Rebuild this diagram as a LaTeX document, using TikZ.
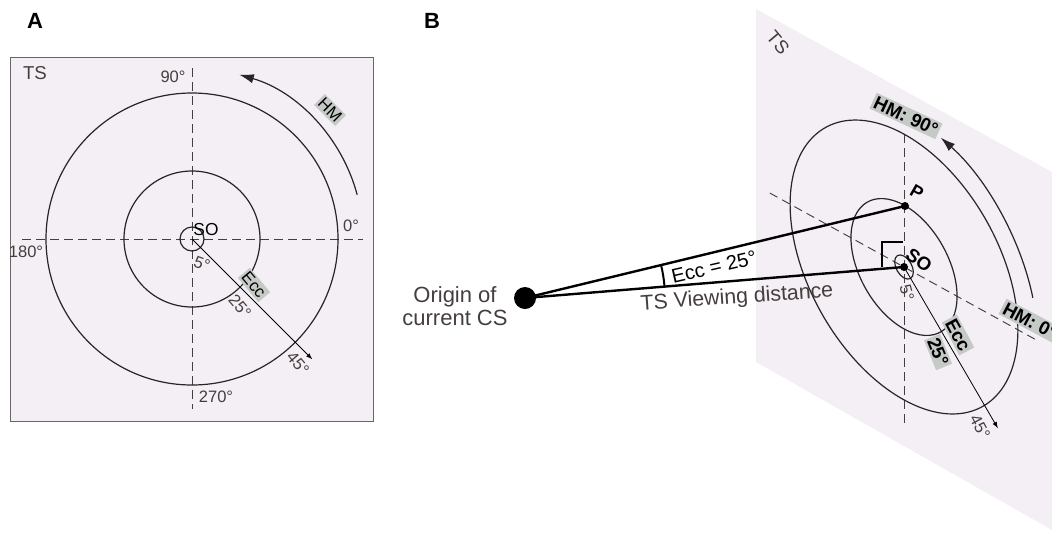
\documentclass[tikz,border=0pt]{standalone}
\usepackage{fontspec}
\setmainfont{Liberation Sans}
\usetikzlibrary{arrows.meta}
\definecolor{tsbg}{HTML}{F4EEF5}
\definecolor{tagbg}{HTML}{C6CAC6}
\definecolor{txt}{HTML}{463E3E}
\tikzset{
  deg/.style={text=txt,inner sep=0pt,font=\fontsize{12.4}{14}\selectfont},
  tag/.style={fill=tagbg,inner sep=1.5pt,font=\fontsize{12.5}{14}\selectfont},
  btag/.style={fill=tagbg,inner sep=1.5pt,font=\bfseries\fontsize{14}{16}\selectfont},
  dsh/.style={dash pattern=on 6.5pt off 4pt,draw=black!75,line width=0.7pt},
  ring/.style={line width=0.9pt,draw=black!85},
  dot/.style={circle,fill=black,inner sep=0pt,minimum size=#1},
  bigtip/.style={-{Latex[length=11pt,width=7pt]},line width=0.9pt,draw=black!85},
}
\begin{document}
\begin{tikzpicture}[x=0.75pt,y=-0.75pt,>=latex]
\useasboundingbox (0,0) rectangle (1052,533);
% panel A
\node[font=\bfseries\fontsize{16.5}{18}\selectfont] (labA) at (35,21) {A};
\draw[draw=black!60,fill=tsbg] (10,57) rectangle (373,421);
\node[text=txt,font=\fontsize{14}{16}\selectfont] (tsA) at (35,73) {TS};
\begin{scope}[shift={(192,239)},y=0.75pt]
\coordinate (soA) at (0,0);
\coordinate (eccA) at (-45:170);
\draw[dsh] (-170,0) -- (171,0);
\draw[dsh] (0,171) -- (0,-170);
\draw[ring] (soA) circle (146) (soA) circle (68) (soA) circle (12);
\draw[->,line width=0.6pt] (soA) -- (eccA);
\draw[bigtip] (15:171) arc[start angle=15,end angle=74,radius=171];
\end{scope}
\node[deg] (a90) at (173,77) {90°};
\node[deg] (a0) at (351,226) {0°};
\node[deg] (a180) at (26,252) {180°};
\node[deg] (a270) at (216,397) {270°};
\node[inner sep=0pt,font=\fontsize{13}{14}\selectfont] (soAl) at (206,230) {SO};
\node[deg,rotate=-20] (a5) at (202,264) {5°};
\node[deg,rotate=-50] (a25) at (240,306) {25°};
\node[deg,rotate=-50] (a45) at (298,363) {45°};
\node[tag,rotate=-50] (eccAl) at (254,285) {Ecc};
\node[tag,rotate=-45] (hmA) at (330,110) {HM};

% panel B
\node[font=\bfseries\fontsize{16.5}{18}\selectfont] (labB) at (432,21) {B};
\fill[tsbg] (756,9) -- (1052,172) -- (1052,530) -- (756,362) -- cycle;
\node[text=txt,rotate=-50,font=\fontsize{14}{16}\selectfont] (tsB) at (778,43) {TS};
\begin{scope}[shift={(904,267)},x={(0.585pt,-0.3225pt)},y={(0pt,0.6825pt)}]
\coordinate (soB) at (0,0);
\coordinate (eccB) at (-45:170);
\draw[dsh] (-172,0) -- (172,0);
\draw[dsh] (0,-171) -- (0,150);
\draw[ring] (soB) circle (146) (soB) circle (68) (soB) circle (12);
\draw[->,line width=0.6pt] (soB) -- (eccB);
\draw[bigtip] (15:171) arc[start angle=15,end angle=74,radius=171];
\end{scope}
\draw[line width=1.5pt] (882,267) -- (882,242) -- (903,242);

\node[dot=16.5pt] (orig) at (525,298) {};
\node[dot=6pt] (p) at (905,206) {};
\node[dot=6pt] (so) at (904,267) {};
\draw[line width=1.8pt] (orig.center) -- (p.center);
\draw[line width=1.8pt] (orig.center) -- (so.center);
\draw[line width=1.5pt] (orig.center) ++(-4.7:140) arc[start angle=-4.7,end angle=-13.6,radius=140];

\node[text=txt,align=center,font=\fontsize{16.5}{17.3}\selectfont] (origl) at (455,306) {Origin of\\current CS};
\node[rotate=13,font=\fontsize{15}{17}\selectfont] (ecc25) at (714,267) {Ecc = 25°};
\node[text=txt,rotate=4,font=\fontsize{16}{18}\selectfont] (tsvd) at (737,298) {TS Viewing distance};
\node[rotate=-30,inner sep=0pt,font=\bfseries\fontsize{13.5}{15}\selectfont] (pl) at (917,192) {P};
\node[rotate=-37,inner sep=0pt,font=\bfseries\fontsize{14}{15}\selectfont] (soBl) at (919,260) {SO};
\node[deg,rotate=-75] (b5) at (907,293) {5°};
\node[deg,rotate=-62] (b45) at (980,427) {45°};
\node[btag,rotate=-25] (hm90) at (906,116) {HM: 90°};
\node[btag,rotate=-28] (hm0) at (1030,321) {HM: 0°};
\node[btag,rotate=-62] (eccBl) at (958,335) {Ecc};
\node[btag,rotate=-68] (b25) at (938,352) {25°};
\end{tikzpicture}
\end{document}
